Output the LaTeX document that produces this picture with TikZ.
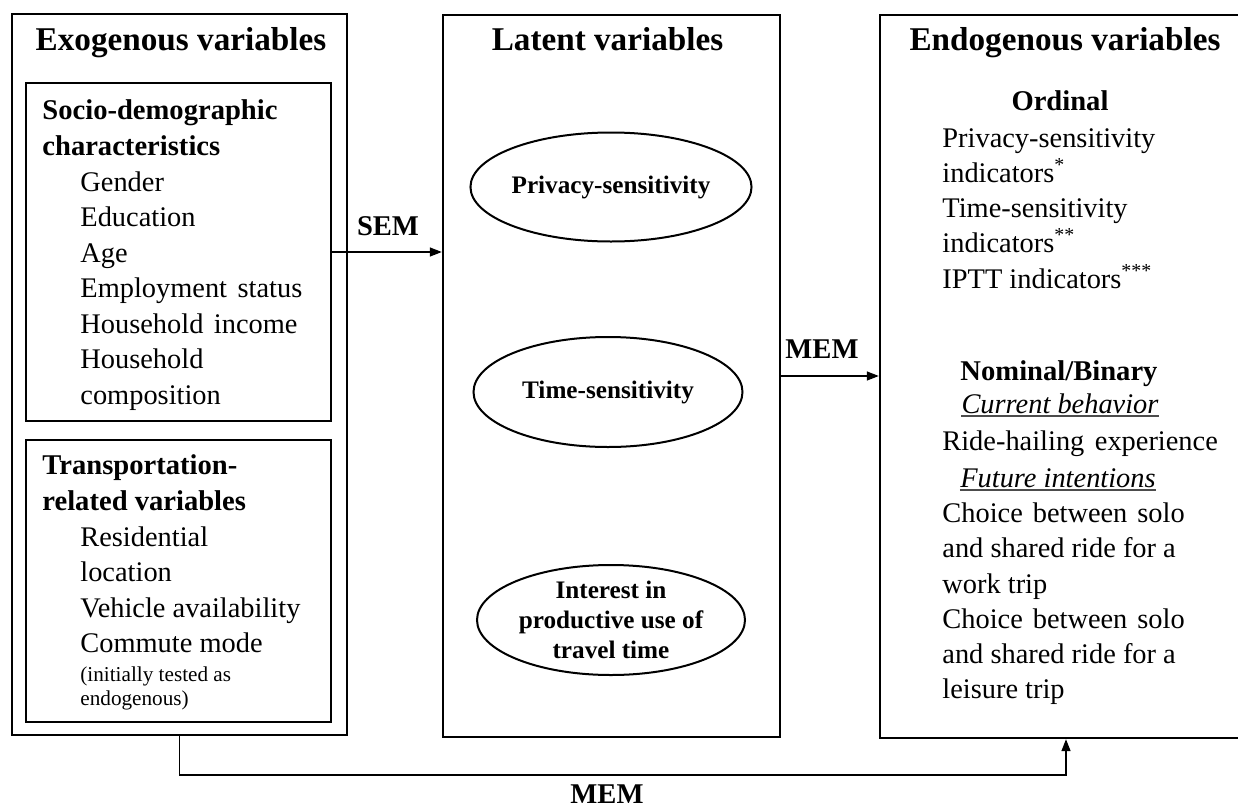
\documentclass[tikz,border=0pt]{standalone}
\usepackage{fontspec}
\setmainfont{Liberation Serif}
\usetikzlibrary{shapes.geometric,arrows.meta}
\tikzset{
  outerbox/.style={draw, line width=1.2pt, inner sep=0pt},
  innerbox/.style={draw, line width=0.8pt, inner sep=0pt},
  latent/.style={draw, ellipse, line width=1pt, inner sep=0pt, align=center,
    font=\fontsize{12.6}{15}\selectfont\bfseries},
  title/.style={anchor=base, inner sep=0pt, font=\fontsize{16.6}{20}\selectfont\bfseries},
  subhead/.style={anchor=base west, inner sep=0pt, font=\fontsize{14.3}{17}\selectfont\bfseries},
  subheadc/.style={anchor=base, inner sep=0pt, font=\fontsize{14.3}{17}\selectfont\bfseries},
  body/.style={anchor=base west, inner sep=0pt, font=\fontsize{14.2}{17}\selectfont},
  bodyc/.style={anchor=base, inner sep=0pt, font=\fontsize{14.2}{17}\selectfont\itshape},
  small/.style={anchor=base west, inner sep=0pt, font=\fontsize{10.6}{13}\selectfont},
  lab/.style={anchor=base, inner sep=0pt, font=\fontsize{14.3}{17}\selectfont\bfseries},
  conn/.style={line width=0.7pt, -{Triangle[length=6pt,width=4.5pt]}},
  uline/.style={line width=0.75pt, gray!60!black}
}
\begin{document}
\begin{tikzpicture}[x=0.5pt,y=-0.5pt]
\clip (0,0) rectangle (1238,809);
% boxes
\node[outerbox, minimum width=167.5pt, minimum height=360.5pt] (exo) at (179.5,374.5) {};
\node[innerbox, minimum width=152.5pt, minimum height=169pt] (socio) at (178.5,252) {};
\node[innerbox, minimum width=152.5pt, minimum height=141pt] (trans) at (178.5,581) {};
\node[outerbox, minimum width=168.5pt, minimum height=361pt] (mid) at (611.5,376) {};
\node[outerbox, minimum width=185pt, minimum height=361.5pt] (endo) at (1065,376.5) {};
% ellipses
\node[latent, minimum width=134pt, minimum height=54.5pt] (ps) at (611,187) {Privacy-sensitivity};
\node[latent, minimum width=134.5pt, minimum height=55pt] (ts) at (608,392) {Time-sensitivity};
\node[latent, minimum width=134pt, minimum height=55pt] (ip) at (611,620) {Interest in\\productive use of\\travel time};
% titles
\node[title] (t1) at (181,50) {Exogenous variables};
\node[title] (t2) at (607.5,50) {Latent variables};
\node[title] (t3) at (1065,50) {Endogenous variables};
% left box text
\node[subhead] (s1) at (42,119) {Socio-demographic};
\node[subhead] (s2) at (42,155) {characteristics};
\node[body] (l1) at (80,191) {Gender};
\node[body] (l2) at (80,226.5) {Education};
\node[body] (l3) at (80,262) {Age};
\node[body] (l4) at (80,297.5) {Employment\hspace{0.12em} status};
\node[body] (l5) at (80,333) {Household\hspace{0.12em} income};
\node[body] (l6) at (80,368.5) {Household};
\node[body] (l7) at (80,404) {composition};
\node[subhead] (s3) at (42,474) {Transportation-};
\node[subhead] (s4) at (42,510) {related variables};
\node[body] (m1) at (80,546) {Residential};
\node[body] (m2) at (80,581.5) {location};
\node[body] (m3) at (80,617) {Vehicle availability};
\node[body] (m4) at (80,652) {Commute mode};
\node[small] (m5) at (80,681) {(initially tested as};
\node[small] (m6) at (80,705) {endogenous)};
% right box text
\node[subheadc] (o0) at (1060,110) {Ordinal};
\node[body] (o1) at (942,147) {Privacy-sensitivity};
\node[body] (o2) at (942,182) {indicators\textsuperscript{*}};
\node[body] (o3) at (942,217) {Time-sensitivity};
\node[body] (o4) at (942,252) {indicators\textsuperscript{**}};
\node[body] (o5) at (942,288) {IPTT indicators\textsuperscript{***}};
\node[subheadc] (n0) at (1059,380) {Nominal/Binary};
\node[bodyc] (cb) at (1060,413) {Current behavior};
\node[body] (n1) at (942,450) {Ride-hailing\hspace{0.12em} experience};
\node[bodyc] (fi) at (1058,487) {Future intentions};
\node[body] (n2) at (942,522) {Choice\hspace{0.1em} between\hspace{0.1em} solo};
\node[body] (n3) at (942,557.5) {and shared ride for a};
\node[body] (n4) at (942,593) {work trip};
\node[body] (n5) at (942,628) {Choice\hspace{0.1em} between\hspace{0.1em} solo};
\node[body] (n6) at (942,663) {and shared ride for a};
\node[body] (n7) at (942,698) {leisure trip};
\draw[uline] ([yshift=-1.6pt]cb.base west) -- ([yshift=-1.6pt]cb.base east);
\draw[uline] ([yshift=-1.6pt]fi.base west) -- ([yshift=-1.6pt]fi.base east);
% connectors
\draw[conn] (socio.east) -- (socio.east -| mid.west);
\node[lab] (sem) at (388,235) {SEM};
\draw[conn] (mid.east) -- (mid.east -| endo.west);
\node[lab] (mem1) at (822,358) {MEM};
\coordinate (bl) at (179.5,775);
\coordinate (br) at (1066,775);
\draw[conn, line width=0.8pt] (exo.south) -- (bl) -- (br) -- (br |- endo.south);
\node[lab] (mem2) at (607,803) {MEM};
\end{tikzpicture}
\end{document}
